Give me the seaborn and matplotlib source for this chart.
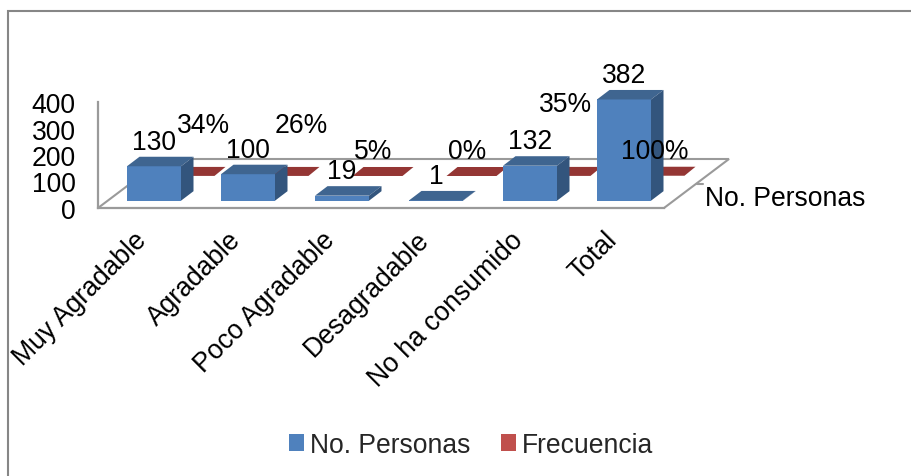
import matplotlib
matplotlib.use("Agg")
import matplotlib.pyplot as plt
import pandas as pd
import seaborn as sns
from matplotlib.lines import Line2D
from matplotlib.patches import Patch, Polygon
from matplotlib.transforms import Affine2D

categories = ["Muy Agradable", "Agradable", "Poco Agradable",
              "Desagradable", "No ha consumido", "Total"]
personas = [130, 100, 19, 1, 132, 382]
frecuencia = [0.34, 0.26, 0.05, 0.00, 0.35, 1.00]
frecuencia_labels = ["34%", "26%", "5%", "0%", "35%", "100%"]
y_ticks = [0, 100, 200, 300, 400]
series_names = ["No. Personas", "Frecuencia"]

# Hand-placed offsets (px) of the percentage labels from their bars
pct_label_offsets = [(14.5, 51), (17.5, 51), (-4.5, 25), (-4.5, 25), (0, 72), (-4.5, 25)]

BLUE, BLUE_TOP, BLUE_SIDE = "#4F81BD", "#3F6590", "#33557D"
RED, RED_TOP = "#C0504D", "#943634"
GREY = "#9A9A9A"
FRAME = "#868686"
FONT_SIZE = 19.1

sns.set_style("white")
plt.rcParams["font.family"] = ["Liberation Sans", "DejaVu Sans"]

W, H = 911, 477
fig = plt.figure(figsize=(W / 100, H / 100), dpi=100)
ax = fig.add_axes([98 / W, 1 - 209 / H, (664 - 98) / W, (209 - 103) / H])

df = pd.DataFrame({"categoria": categories, "personas": personas, "frecuencia": frecuencia})
PX_PER_CAT = 94
PX_PER_UNIT = (209 - 103) / 400
ax.set_ylim(0, 400)


def shifted(dx, dy):
    """Data transform moved by a pixel offset, for planes deeper in the 3D box."""
    return ax.transData + Affine2D().translate(dx, dy)


def draw_series(column, color, width_px, shift, depth, top_color, side_color, zorder):
    """Draw a series as front faces through seaborn, then add the top and side faces."""
    before = len(ax.patches)
    sns.barplot(data=df, x="categoria", y=column, color=color, saturation=1,
                width=width_px / PX_PER_CAT, ax=ax, errorbar=None, zorder=zorder)
    ax.set_xlim((98 - 154) / PX_PER_CAT, (664 - 154) / PX_PER_CAT)
    ax.set_ylim(0, 400)
    tr = shifted(*shift)
    ddx, ddy = depth[0] / PX_PER_CAT, depth[1] / PX_PER_UNIT
    for bar in list(ax.patches[before:]):
        bar.set_transform(tr)
        bar.set_clip_on(False)
        bar.set_linewidth(0)
        x0, x1 = bar.get_x(), bar.get_x() + bar.get_width()
        top = bar.get_height()
        ax.add_patch(Polygon([(x0, top), (x1, top), (x1 + ddx, top + ddy), (x0 + ddx, top + ddy)],
                             closed=True, fc=top_color, lw=0, transform=tr, clip_on=False, zorder=zorder))
        if side_color:
            ax.add_patch(Polygon([(x1, 0), (x1 + ddx, ddy), (x1 + ddx, top + ddy), (x1, top)],
                                 closed=True, fc=side_color, lw=0, transform=tr, clip_on=False, zorder=zorder))


# Floor outline of the 3D box, behind the bars
floor_dx, floor_dy = 65 / PX_PER_CAT, 49 / PX_PER_UNIT
xl, xr = (98 - 154) / PX_PER_CAT, (664 - 154) / PX_PER_CAT
ax.plot([xl, xl + floor_dx, xr + floor_dx, xr], [0, floor_dy, floor_dy, 0],
        color=GREY, lw=1.5, clip_on=False, zorder=1, solid_joinstyle="miter")
ax.plot([xr + floor_dx * 0.5, xr + floor_dx * 0.5 + 6 / PX_PER_CAT], [floor_dy * 0.5, floor_dy * 0.5],
        color=GREY, lw=1.5, clip_on=False, zorder=1)

# The back series sits deeper in the box than the front one
RED_SHIFT = (35.5, 32)
BLUE_SHIFT = (0, 7.3)
draw_series("frecuencia", RED, 50, RED_SHIFT, (11, 9), RED_TOP, None, 2)
draw_series("personas", BLUE, 54, BLUE_SHIFT, (12.5, 9.5), BLUE_TOP, BLUE_SIDE, 3)

# Axes styling
for side in ("top", "right"):
    ax.spines[side].set_visible(False)
for side in ("left", "bottom"):
    ax.spines[side].set_color(GREY)
    ax.spines[side].set_linewidth(1.6)
    ax.spines[side].set_zorder(1)
ax.patch.set_visible(False)
ax.set_xlabel("")
ax.set_ylabel("")
ax.set_yticks(y_ticks)
ax.set_yticklabels([str(t) for t in y_ticks], fontsize=FONT_SIZE, color="black")
ax.tick_params(axis="y", length=0, pad=16)
ax.set_xticks(range(len(categories)))
ax.set_xticklabels(categories, fontsize=FONT_SIZE, color="black", rotation=45,
                   ha="right", va="top", rotation_mode="anchor")
ax.tick_params(axis="x", length=0, pad=14)
fig.canvas.draw()
for label in ax.get_xticklabels():
    label.set_transform(label.get_transform() + Affine2D().translate(-20, 1))
for label in ax.get_yticklabels():
    label.set_transform(label.get_transform() + Affine2D().translate(0, 0))

# Data labels
for i, value in enumerate(personas):
    ax.annotate(str(value), xy=(i, value), xycoords=shifted(*BLUE_SHIFT),
                xytext=(0, 24.5 * 0.72), textcoords="offset points",
                ha="center", va="center", fontsize=FONT_SIZE, color="black", zorder=6,
                annotation_clip=False)
for i, (value, text) in enumerate(zip(frecuencia, frecuencia_labels)):
    ox, oy = pct_label_offsets[i]
    ax.annotate(text, xy=(i, value), xycoords=shifted(*RED_SHIFT),
                xytext=(ox * 0.72, oy * 0.72), textcoords="offset points",
                ha="center", va="center", fontsize=FONT_SIZE, color="black", zorder=6,
                annotation_clip=False)

# Depth-axis label
ax.annotate(series_names[0], xy=(xr + floor_dx * 0.5, floor_dy * 0.5), xycoords="data",
            xytext=(8 * 0.72, -15 * 0.72), textcoords="offset points",
            ha="left", va="center", fontsize=FONT_SIZE, color="black", annotation_clip=False)

# Legend
handles = [Patch(fc=BLUE, lw=0), Patch(fc=RED, lw=0)]
fig.legend(handles, series_names, loc="center", bbox_to_anchor=(471 / W, 1 - 446 / H),
           ncol=2, frameon=False, fontsize=FONT_SIZE, handlelength=0.58, handleheight=0.58,
           handletextpad=0.23, columnspacing=1.13, borderpad=0, borderaxespad=0)

# Chart frame, open on the right and at the bottom
fig.add_artist(Line2D([8 / W, 8 / W, 1], [0, 1 - 12 / H, 1 - 12 / H], color=FRAME, lw=1.5,
                      transform=fig.transFigure, solid_joinstyle="miter"))

fig.savefig("out.png", dpi=100)
